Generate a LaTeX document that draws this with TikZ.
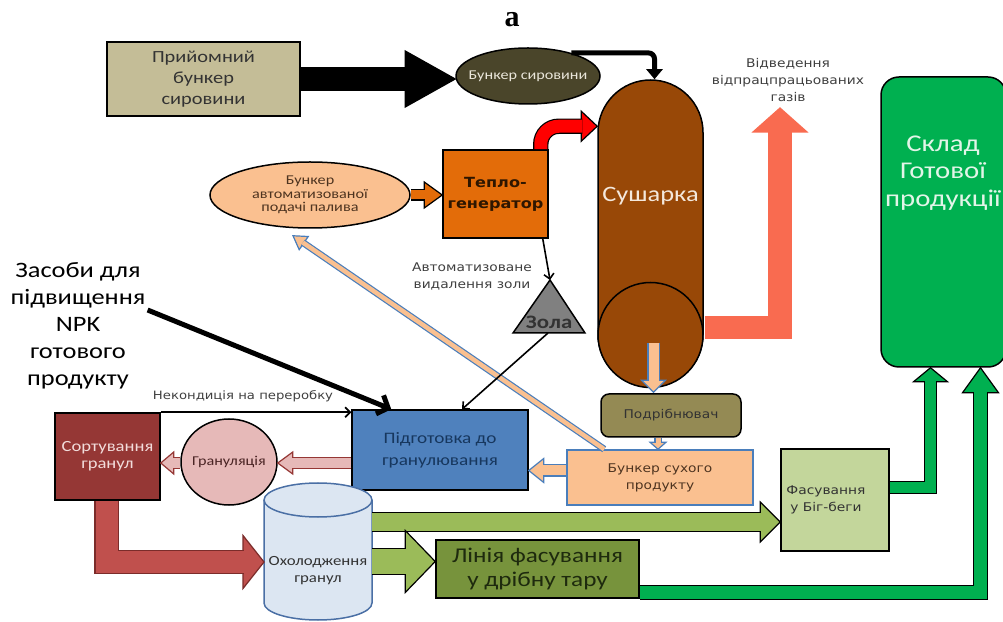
\documentclass[tikz,border=0pt]{standalone}
\usepackage{fontspec}
\setmainfont[FakeStretch=1.2]{Carlito}
\newfontfamily\vfont[FakeStretch=1.15]{DejaVu Sans}
\newfontfamily\titlefont{Liberation Serif}
\usetikzlibrary{arrows.meta,calc,shapes.geometric}
\definecolor{tanbox}{HTML}{C4BD97}
\definecolor{olivebin}{HTML}{4A452A}
\definecolor{bintext}{HTML}{EAE6DA}
\definecolor{dryerbrown}{HTML}{984807}
\definecolor{drytext}{HTML}{F4E8DC}
\definecolor{orange1}{HTML}{E36C09}
\definecolor{tepltext}{HTML}{2E1600}
\definecolor{redhot}{HTML}{FF0000}
\definecolor{peach}{HTML}{FAC090}
\definecolor{peachtext}{HTML}{4E3420}
\definecolor{bluel}{HTML}{4A7EBB}
\definecolor{ashgray}{HTML}{808080}
\definecolor{bluebox}{HTML}{4F81BD}
\definecolor{navytext}{HTML}{17375E}
\definecolor{sortred}{HTML}{953735}
\definecolor{sorttext}{HTML}{F2DCDB}
\definecolor{pinkf}{HTML}{E6B9B8}
\definecolor{grantext}{HTML}{4A2424}
\definecolor{redarr}{HTML}{C0504D}
\definecolor{darkred}{HTML}{7B2C2A}
\definecolor{cylfill}{HTML}{DCE6F2}
\definecolor{cylblue}{HTML}{4A6FA5}
\definecolor{grn}{HTML}{9BBB59}
\definecolor{olivegreen}{HTML}{77933C}
\definecolor{packtext}{HTML}{1E2A0E}
\definecolor{lightgreen}{HTML}{C3D69B}
\definecolor{storegreen}{HTML}{00B050}
\definecolor{storetext}{HTML}{E2F5E8}
\definecolor{salmon}{HTML}{F96B50}
\definecolor{grinderol}{HTML}{948A54}
\definecolor{textdark}{HTML}{333333}
\definecolor{textgray}{HTML}{404040}
\newcommand{\fatarrow}[7]{%
  % fill, outline, from, to, shaft width, half head width, head length.
  \coordinate (fa-h) at ($(#4)!#7!(#3)$);
  \filldraw[fill=#1,draw=#2,line width=1.2pt] ($(fa-h)!#6!90:(#4)$) -- (#4) -- ($(fa-h)!#6!-90:(#4)$) -- cycle;
  \draw[draw=#2,line width=1.2pt,double=#1,double distance=#5] (#3) -- ($(fa-h)!1pt!(#4)$);
}
\newcommand{\bentarrow}[7]{%
  % fill, outline, shaft width, shaft path up to the head, head base, tip, half head width.
  \filldraw[fill=#1,draw=#2,line width=1.2pt] ($(#5)!#7!90:(#6)$) -- (#6) -- ($(#5)!#7!-90:(#6)$) -- cycle;
  \draw[draw=#2,line width=1.2pt,double=#1,double distance=#3] #4;
}

\begin{document}
\begin{tikzpicture}[x=1pt,y=1pt,
  box/.style={draw,line width=1.5pt,align=center,inner sep=0pt},
  lbl/.style={align=center,inner sep=0pt},
  thinarr/.style={line width=1.6pt,-{Straight Barb[length=5pt,width=10pt]}}]
  \useasboundingbox (0,0) rectangle (1003,621);
  \fill[white] (0,0) rectangle (1003,621);
  \node[lbl,font=\titlefont\bfseries\fontsize{30}{30}\selectfont] (title) at (512,601) {a};

  % nodes
  \node[box,fill=tanbox,minimum width=193pt,minimum height=74pt,text=textdark,
    font=\fontsize{17}{21}\selectfont] (recv) at (203.5,542) {Прийомний\\бункер\\сировини};
  \node[draw,line width=1.5pt,ellipse,fill=olivebin,minimum width=144pt,minimum height=56pt] (rawbin) at (528,545) {};
  \node[lbl,text=bintext,font=\fontsize{13.5}{15}\selectfont] (rawbintxt) at (rawbin) {Бункер сировини};
  \node[draw,line width=1.5pt,fill=dryerbrown,rounded corners=52.5pt,minimum width=105pt,minimum height=307pt] (dryer) at (650.5,387.5) {};
  \node[draw,line width=1.5pt,circle,fill=dryerbrown,minimum size=105pt,inner sep=0pt] (drycirc) at (650.5,286) {};
  \node[lbl,text=drytext,font=\fontsize{22}{24}\selectfont] (drytxt) at (650.5,425) {Сушарка};
  \node[box,fill=orange1,minimum width=105pt,minimum height=88pt,text=tepltext,
    font=\vfont\bfseries\fontsize{14}{21}\selectfont] (teplo) at (495.5,427) {Тепло-\\генератор};
  \node[draw,line width=1.5pt,ellipse,fill=peach,minimum width=200pt,minimum height=66pt] (fuelbin) at (310,426) {};
  \node[lbl,text=peachtext,font=\fontsize{13.5}{13.5}\selectfont] (fuelbintxt) at (fuelbin) {Бункер\\автоматизованої\\подачі палива};
  \node[lbl,text=textgray,font=\vfont\fontsize{12}{17}\selectfont] (ashlbl) at (472,345) {Автоматизоване\\видалення золи};
  \draw[line width=1.5pt,fill=ashgray] (550,341) coordinate (ashtop) -- (585,288) -- (513,288) -- cycle;
  \coordinate (ashbot) at (548,288);
  \node[lbl,text=textdark,font=\bfseries\fontsize{19}{19}\selectfont] (ash) at (549,299) {Зола};
  \node[box,fill=bluebox,minimum width=176pt,minimum height=80pt,text=navytext,
    font=\fontsize{16}{22}\selectfont] (prep) at (440,171) {Підготовка до\\гранулювання};
  \node[lbl,font=\fontsize{22}{27}\selectfont] (npk) at (78,295) {Засоби для\\підвищення\\NPK\\готового\\продукту};
  \node[lbl,text=textgray,font=\vfont\fontsize{11.5}{13}\selectfont] (offspec) at (243,225) {Некондиція на переробку};
  \node[box,fill=sortred,minimum width=105pt,minimum height=87pt,text=sorttext,
    font=\fontsize{15.5}{17}\selectfont] (sort) at (107.5,164.5) {Сортування\\гранул};
  \node[draw,line width=1.5pt,ellipse,fill=pinkf,minimum width=96pt,minimum height=86pt] (gran) at (229,159) {};
  \node[lbl,text=grantext,font=\fontsize{13.5}{15}\selectfont] (grantxt) at (gran) {Грануляція};
  \node[draw=bluel,line width=1.5pt,fill=peach,minimum width=186pt,minimum height=55pt,align=center,
    text=peachtext,font=\vfont\fontsize{12}{17}\selectfont] (drybin) at (660,143.5) {Бункер сухого\\продукту};
  \node[draw,line width=1.5pt,rounded corners=8pt,fill=grinderol,minimum width=140pt,minimum height=43pt,
    text=textdark,font=\vfont\fontsize{12}{14}\selectfont] (grinder) at (671,205.5) {Подрібнювач};
  \node[box,fill=lightgreen,minimum width=108pt,minimum height=102pt] (bigbag) at (835,121) {};
  \node[lbl,text=textdark,font=\vfont\fontsize{12}{17}\selectfont] (bigbagtxt) at ($(bigbag)+(-9,0)$) {Фасування\\у Біг-беги};
  \node[box,fill=storegreen,rounded corners=18pt,minimum width=125pt,minimum height=290pt] (store) at (943.5,399) {};
  \node[lbl,text=storetext,font=\fontsize{24}{27.5}\selectfont] (storetxt) at (943,448) {Склад\\Готової\\продукції};
  \draw[draw=cylblue,line width=1.5pt,fill=cylfill] (264,121) -- (264,18)
    arc[start angle=180,end angle=360,x radius=54,y radius=17] -- (372,121)
    arc[start angle=0,end angle=180,x radius=54,y radius=17] -- cycle;
  \draw[draw=cylblue,line width=1.5pt] (372,121) arc[start angle=0,end angle=-180,x radius=54,y radius=17];
  \coordinate (coolE1) at (372,99);
  \coordinate (coolE2) at (372,59.5);
  \coordinate (coolW) at (264,59);
  \node[lbl,text=textdark,font=\fontsize{14}{17}\selectfont] (cool) at (318,50) {Охолодження\\гранул};
  \node[box,fill=olivegreen,minimum width=203pt,minimum height=58pt,text=packtext,
    font=\fontsize{21}{24}\selectfont] (pack) at (537.5,52) {Лінія фасування\\у дрібну тару};
  \node[lbl,text=textgray,font=\vfont\fontsize{12}{17}\selectfont] (gaslbl) at (788,541) {Відведення\\відпрацпрацьованих\\газів};

  % connectors
  \fatarrow{black}{black}{recv.east}{rawbin.west|-recv.east}{21.6pt}{28pt}{50pt}
  \draw[line width=5pt,rounded corners=6pt,-{Triangle[width=16pt,length=10pt]}] (rawbin.28) -| ($(dryer.north)+(4,0)$);
  \coordinate (redtip) at ($(dryer.north west)+(0,-47)$);
  \coordinate (redbase) at ($(redtip)+(-16,0)$);
  \bentarrow{redhot}{black}{13pt}{($(teplo.north east)+(-8,0)$) -- ++(0,5) to[out=90,in=180] ++(18,18) -- ($(redbase)+(1,0)$)}{redbase}{redtip}{15pt}
  \fatarrow{orange1}{black}{fuelbin.east}{teplo.west|-fuelbin.east}{9pt}{13pt}{18pt}
  \coordinate (diagS) at ($(drybin.north west)+(38,0)$);
  \coordinate (diagE) at ($(fuelbin.south)+(-17,-7)$);
  \fatarrow{peach}{bluel}{diagS}{diagE}{4.5pt}{8pt}{13pt}
  \draw[thinarr] ($(teplo.south east)+(-6,0)$) -- (ashtop);
  \draw[thinarr] (ashbot) -- ($(prep.north)+(22,0)$);
  \draw[line width=5pt,-{Straight Barb[length=9pt,width=20pt]}] ($(npk.east)+(2,16)$) -- ($(prep.north west)+(40,0)$);
  \draw[thinarr] (sort.north east) -- (prep.west|-sort.north east);
  \coordinate (pg) at ($(prep.west)+(0,-13)$);
  \fatarrow{pinkf}{sortred}{pg}{gran.east|-pg}{10pt}{11pt}{15pt}
  \fatarrow{pinkf}{sortred}{gran.west|-pg}{sort.east|-pg}{10pt}{11pt}{13pt}
  \coordinate (dp) at ($(drybin.west)+(0,7)$);
  \fatarrow{peach}{bluel}{dp}{prep.east|-dp}{10pt}{12pt}{15pt}
  \coordinate (dg1) at ($(drycirc.center)+(3,-8)$);
  \coordinate (dg2) at ($(drycirc.south)+(3,-4)$);
  \fatarrow{peach}{bluel}{dg1}{dg2}{10pt}{12pt}{12pt}
  \coordinate (gd1) at ($(grinder.south)+(-13,0)$);
  \fatarrow{peach}{bluel}{gd1}{gd1|-drybin.north}{5pt}{8pt}{7pt}
  \coordinate (gasS) at ($(dryer.east|-drycirc.center)+(1,7.5)$);
  \coordinate (gasT) at (780,513);
  \coordinate (gasB) at (780,489);
  \bentarrow{salmon}{salmon}{21pt}{(gasS) -| ($(gasB)+(0,1)$)}{gasB}{gasT}{27pt}
  \fatarrow{grn}{black}{coolE1}{bigbag.west|-coolE1}{18pt}{20pt}{20pt}
  \fatarrow{grn}{black}{coolE2}{pack.west|-coolE2}{25pt}{31pt}{30pt}
  \coordinate (rb) at ($(coolW)+(-21,0)$);
  \bentarrow{redarr}{darkred}{22pt}{($(sort.south)+(-1,0)$) |- ($(rb)+(1,0)$)}{rb}{coolW}{26.5pt}
  \coordinate (st1) at ($(store.south)+(-13,0)$);
  \coordinate (sb1) at ($(st1)+(0,-14)$);
  \bentarrow{storegreen}{black}{11pt}{($(bigbag.east)+(0,12.5)$) -| ($(sb1)+(0,1)$)}{sb1}{st1}{17pt}
  \coordinate (st2) at ($(store.south)+(37,0)$);
  \coordinate (sb2) at ($(st2)+(0,-25)$);
  \bentarrow{storegreen}{black}{13pt}{($(pack.south east)+(0,6.5)$) -| ($(sb2)+(0,1)$)}{sb2}{st2}{18pt}
\end{tikzpicture}
\end{document}
